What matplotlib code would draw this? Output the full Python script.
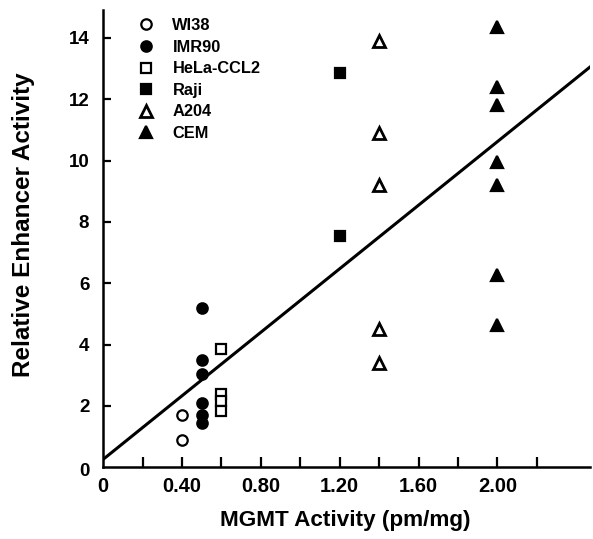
import matplotlib
matplotlib.use("Agg")
import matplotlib.pyplot as plt

plt.rcParams['font.family'] = ['Liberation Sans', 'DejaVu Sans']

# Data
wi38_x = [0.40, 0.40]
wi38_y = [1.7, 0.9]
imr90_x = [0.50, 0.50, 0.50, 0.50, 0.50, 0.50]
imr90_y = [5.2, 3.5, 3.05, 2.1, 1.7, 1.45]
hela_x = [0.60, 0.60, 0.60, 0.60]
hela_y = [3.85, 2.4, 2.15, 1.85]
raji_x = [1.20, 1.20]
raji_y = [12.85, 7.55]
a204_x = [1.40, 1.40, 1.40, 1.40, 1.40]
a204_y = [13.9, 10.9, 9.2, 4.5, 3.4]
cem_x = [2.00, 2.00, 2.00, 2.00, 2.00, 2.00, 2.00]
cem_y = [14.35, 12.4, 11.8, 9.95, 9.2, 6.27, 4.64]
fit_x = [0.0, 2.47]
fit_y = [0.26, 13.05]

x_ticks = [0.2, 0.4, 0.6, 0.8, 1.0, 1.2, 1.4, 1.6, 1.8, 2.0, 2.2]
x_labels = ['0.40', '0.80', '1.20', '1.60', '2.00']
x_label_pos = [0.4, 0.8, 1.2, 1.6, 2.0]
y_ticks = [2, 4, 6, 8, 10, 12, 14]

fig = plt.figure(figsize=(5.93, 5.39), dpi=100)
ax = fig.add_axes([0.174, 0.133, 0.821, 0.848])

ms = 7.5
mew = 1.6
ax.plot(wi38_x, wi38_y, 'o', ms=ms, mfc='white', mec='black', mew=mew, label='WI38')
ax.plot(imr90_x, imr90_y, 'o', ms=ms, mfc='black', mec='black', mew=mew, label='IMR90')
ax.plot(hela_x, hela_y, 's', ms=ms - 0.5, mfc='white', mec='black', mew=mew, label='HeLa-CCL2')
ax.plot(raji_x, raji_y, 's', ms=ms - 1.0, mfc='black', mec='black', mew=mew, label='Raji')
ax.plot(a204_x, a204_y, '^', ms=ms + 1, mfc='white', mec='black', mew=mew + 0.4, label='A204')
ax.plot(cem_x, cem_y, '^', ms=ms + 1, mfc='black', mec='black', mew=mew, label='CEM')
ax.plot(fit_x, fit_y, '-', color='black', lw=2.2)

ax.set_xlim(0, 2.47)
ax.set_ylim(0, 14.9)

for s in ['top', 'right']:
    ax.spines[s].set_visible(False)
for s in ['left', 'bottom']:
    ax.spines[s].set_linewidth(1.8)

ax.set_xticks(x_ticks)
ax.set_xticklabels([])
ax.tick_params(axis='x', direction='in', length=7, width=1.6)
for xp, lab in zip([0.0] + x_label_pos, ['0'] + x_labels):
    ax.annotate(lab, xy=(xp, 0), xycoords=('data', 'axes fraction'),
                xytext=(0, -7), textcoords='offset points',
                ha='center', va='top', fontsize=14.5, fontweight='bold')

ax.set_yticks(y_ticks)
ax.set_yticklabels([str(v) for v in y_ticks])
ax.tick_params(axis='y', direction='in', length=6, width=1.6, pad=10, labelsize=13.5)
for t in ax.get_yticklabels():
    t.set_fontweight('bold')
ax.annotate('0', xy=(0, 0), xycoords=('axes fraction', 'data'),
            xytext=(-10, -3), textcoords='offset points',
            ha='right', va='center', fontsize=13.5, fontweight='bold')

ax.set_xlabel('MGMT Activity (pm/mg)', fontsize=16.2, fontweight='bold')
ax.xaxis.set_label_coords(0.497, -0.093)
ax.set_ylabel('Relative Enhancer Activity', fontsize=17.5, fontweight='bold')
ax.yaxis.set_label_coords(-0.14, 0.53)

leg = ax.legend(loc='upper left', bbox_to_anchor=(0.058, 0.997), frameon=False,
                fontsize=11.8, handlelength=1.0, handletextpad=1.1,
                labelspacing=0.4, borderaxespad=0.0)
for t in leg.get_texts():
    t.set_fontweight('bold')

fig.savefig('out.png', dpi=100)
